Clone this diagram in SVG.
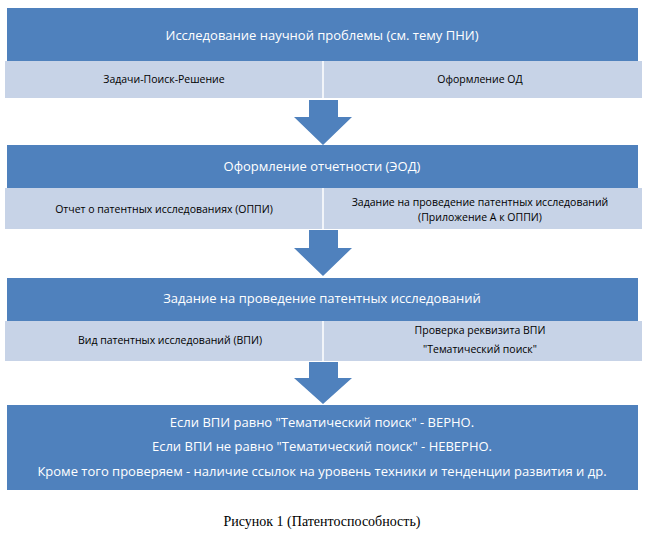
<svg xmlns="http://www.w3.org/2000/svg" width="660" height="544" viewBox="0 0 660 544">
<style>
.h{fill:#4f81bd}
.s{fill:#c7d3e7}
.d{stroke:#fff;stroke-width:1.5}
.ar{fill:#4f81bd}
.ht{font-family:"Open Sans","Liberation Sans",sans-serif;font-size:13px;fill:#fff;text-anchor:middle}
.st{font-family:"Open Sans","Liberation Sans",sans-serif;font-size:10.5px;fill:#000;text-anchor:middle}
.cap{font-family:"Liberation Serif",serif;font-size:14px;fill:#000;text-anchor:middle}
</style>
<rect width="660" height="544" fill="#fff"/>
<g id="b1">
<rect class="h" x="7" y="8" width="631" height="53"/>
<text class="ht" x="322" y="40">Исследование научной проблемы  (см. тему ПНИ)</text>
<rect class="s" x="5" y="61" width="637" height="37"/>
<line class="d" x1="323" y1="61" x2="323" y2="98"/>
<text class="st" x="164" y="83">Задачи-Поиск-Решение</text>
<text class="st" x="480" y="83">Оформление ОД</text>
</g>
<g id="b2">
<rect class="h" x="7" y="145" width="631" height="43"/>
<text class="ht" x="322" y="171">Оформление отчетности  (ЭОД)</text>
<rect class="s" x="5" y="188" width="637" height="41"/>
<line class="d" x1="323" y1="188" x2="323" y2="229"/>
<text class="st" x="164" y="213">Отчет о патентных исследованиях (ОППИ)</text>
<text class="st" x="480" y="206">Задание на проведение патентных исследований</text>
<text class="st" x="480" y="221">(Приложение А к ОППИ)</text>
</g>
<g id="b3">
<rect class="h" x="7" y="278" width="631" height="43"/>
<text class="ht" x="322" y="303">Задание на проведение патентных исследований</text>
<rect class="s" x="5" y="321" width="637" height="40"/>
<line class="d" x1="323" y1="321" x2="323" y2="361"/>
<text class="st" x="170" y="344">Вид патентных исследований (ВПИ)</text>
<text class="st" x="480" y="334">Проверка реквизита ВПИ</text>
<text class="st" x="480" y="353">"Тематический поиск"</text>
</g>
<g id="b4">
<rect class="h" x="7" y="405" width="631" height="85"/>
<text class="ht" x="322" y="427">Если ВПИ равно "Тематический поиск" - ВЕРНО.</text>
<text class="ht" x="322" y="451">Если ВПИ не равно "Тематический поиск" - НЕВЕРНО.</text>
<text class="ht" x="322" y="476">Кроме того проверяем - наличие ссылок на уровень техники и тенденции развития и др.</text>
</g>
<g id="connectors">
<polygon class="ar" points="309,100 338,100 338,117 352,117 323,145 294,117 309,117"/>
<polygon class="ar" points="309,230 338,230 338,248 352,248 323,276 294,248 309,248"/>
<polygon class="ar" points="309,362 338,362 338,378 352,378 323,404 294,378 309,378"/>
</g>
<text class="cap" x="322" y="526">Рисунок 1 (Патентоспособность)</text>
</svg>
